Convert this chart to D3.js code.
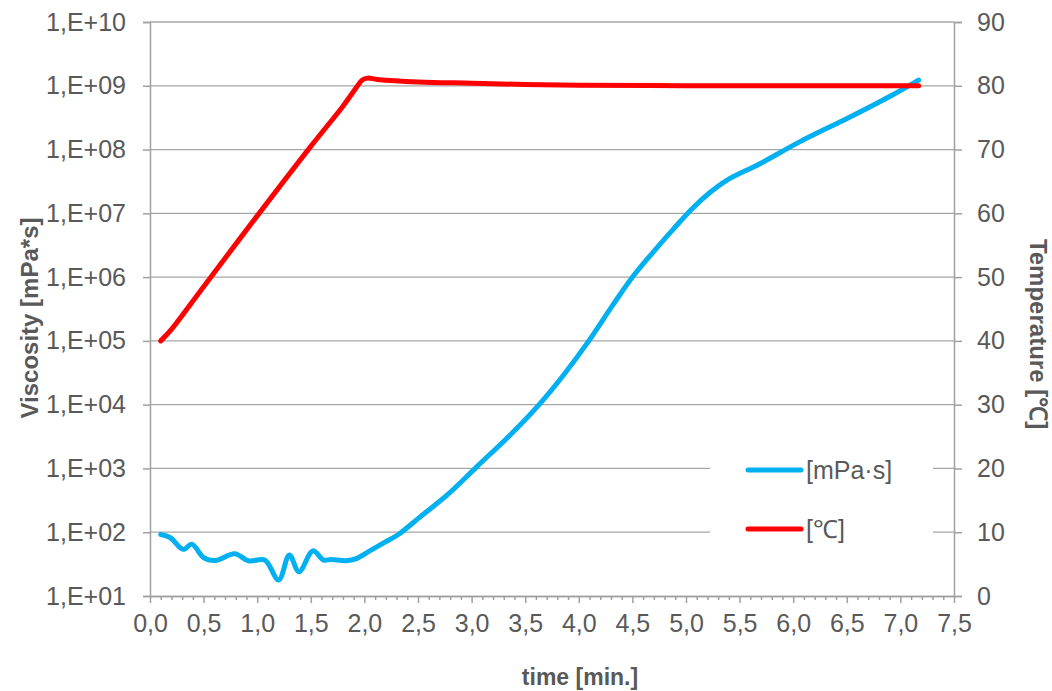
<!DOCTYPE html>
<html><head><meta charset="utf-8">
<script src="https://cdn.jsdelivr.net/npm/d3@7"></script>
<style>
body{margin:0;background:#fff;}
text{font-family:"Liberation Sans",Arial,sans-serif;}
</style></head>
<body><svg id="c" width="1052" height="691"></svg>
<script>
// ---- data ----
const viscTime = [0.10,0.19,0.31,0.39,0.50,0.61,0.79,0.92,1.07,1.20,1.30,1.39,1.52,1.62,1.69,1.83,1.93,2.05,2.18,2.32,2.52,2.77,3.05,3.39,3.64,3.86,4.07,4.32,4.51,4.73,4.88,5.05,5.22,5.38,5.69,6.06,6.53,6.90,7.17];
const viscosity = [92,82,54,65,40,36,46,35.5,36.6,17.8,44,24,51,36.6,37.5,35.7,39,51,68,93,174,380,1070,3760,10500,29500,88000,370000,1.05e6,2.9e6,5.6e6,1.15e7,2.1e7,3.3e7,6.0e7,1.32e8,3.24e8,6.8e8,1.23e9];
const tempTime = [0.10,0.20,0.50,1.00,1.50,1.80,1.92,1.98,2.03,2.12,2.50,3.00,3.50,4.00,5.00,6.00,7.17];
const temperature = [40,41.8,48.5,59.6,70.5,76.8,79.6,80.9,81.2,81.0,80.6,80.4,80.2,80.1,80.0,80.0,80.0];
const xTicks = [0,0.5,1,1.5,2,2.5,3,3.5,4,4.5,5,5.5,6,6.5,7,7.5];
const leftTicks = [1e1,1e2,1e3,1e4,1e5,1e6,1e7,1e8,1e9,1e10];
const rightTicks = [0,10,20,30,40,50,60,70,80,90];
const seriesNames = ["[mPa·s]","[\u2103]"];
const titles = {x:"time [min.]", yL:"Viscosity [mPa*s]", yR:"Temperature [\u2103]"};

// ---- chart ----
const svg = d3.select("#c");
const L=150, R=954, T=22, B=596;
const x = d3.scaleLinear([0,7.5],[L,R]);
const yL = d3.scaleLog([1e1,1e10],[B,T]);
const yR = d3.scaleLinear([0,90],[B,T]);
const txt="#595959", axc="#a0a0a0", grid="#a6a6a6";
const blue="#00B0F0", red="#FF0000";

// gridlines
svg.append("g").selectAll("line").data(leftTicks.slice(1)).join("line")
  .attr("x1",L).attr("x2",R).attr("y1",d=>yL(d)).attr("y2",d=>yL(d))
  .attr("stroke",grid).attr("stroke-width",1.3);

const fmt = d=>{const e=Math.round(Math.log10(d));return "1,E+"+(e<10?"0"+e:e);};

// left axis
svg.append("g").attr("transform",`translate(${L},0)`)
  .call(d3.axisLeft(yL).tickValues(leftTicks).tickFormat(fmt).tickSize(7).tickPadding(17));
// right axis
svg.append("g").attr("transform",`translate(${R},0)`)
  .call(d3.axisRight(yR).tickValues(rightTicks).tickFormat(d=>d).tickSize(8).tickPadding(15));
// x axis minor
const minor = d3.range(0,76).map(i=>i/10);
svg.append("g").attr("transform",`translate(0,${B})`)
  .call(d3.axisBottom(x).tickValues(minor.filter(v=>Math.abs(v*2-Math.round(v*2))>1e-6)).tickFormat("").tickSize(4).tickSizeOuter(0));
const gx = svg.append("g").attr("transform",`translate(0,${B})`)
  .call(d3.axisBottom(x).tickValues(xTicks).tickFormat(d=>d3.format(".1f")(d).replace(".",",")).tickSize(7).tickSizeOuter(0).tickPadding(10));

svg.selectAll(".domain").attr("stroke",axc).attr("stroke-width",1.5);
svg.selectAll(".tick line").attr("stroke",axc).attr("stroke-width",1.5);
svg.selectAll(".tick text").attr("fill",txt).style("font-size","25px").style("font-family","'Liberation Sans',Arial,sans-serif");
gx.selectAll(".tick text").attr("dy","0.75em");

// legend background
svg.append("rect").attr("x",710).attr("y",445).attr("width",223).attr("height",110).attr("fill","#fff");

// lines
const lineV = d3.line().x(d=>x(d[0])).y(d=>yL(d[1])).curve(d3.curveCatmullRom.alpha(0.5));
const lineT = d3.line().x(d=>x(d[0])).y(d=>yR(d[1])).curve(d3.curveCatmullRom.alpha(0.5));
svg.append("path").datum(viscTime.map((t,i)=>[t,viscosity[i]])).attr("d",lineV)
  .attr("fill","none").attr("stroke",blue).attr("stroke-width",5).attr("stroke-linecap","round").attr("stroke-linejoin","round");
svg.append("path").datum(tempTime.map((t,i)=>[t,temperature[i]])).attr("d",lineT)
  .attr("fill","none").attr("stroke",red).attr("stroke-width",5).attr("stroke-linecap","round").attr("stroke-linejoin","round");

// legend
const leg = [[blue,470],[red,529]];
leg.forEach((l,i)=>{
  svg.append("line").attr("x1",748).attr("x2",801).attr("y1",l[1]).attr("y2",l[1])
    .attr("stroke",l[0]).attr("stroke-width",5).attr("stroke-linecap","round");
  svg.append("text").attr("x",806).attr("y",l[1]).attr("dy","0.35em").attr("fill",txt)
    .style("font-size","25px").text(seriesNames[i]);
});

// titles
svg.append("text").attr("x",580).attr("y",685).attr("text-anchor","middle")
  .attr("fill",txt).style("font-size","23px").style("font-weight","bold").text(titles.x);
svg.append("text").attr("transform","translate(30,318) rotate(-90)").attr("dy","0.35em").attr("text-anchor","middle")
  .attr("fill",txt).style("font-size","24px").style("font-weight","bold").text(titles.yL);
svg.append("text").attr("transform","translate(1038,334) rotate(90)").attr("dy","0.35em").attr("text-anchor","middle")
  .attr("fill",txt).style("font-size","24px").style("font-weight","bold").text(titles.yR);
</script></body></html>
